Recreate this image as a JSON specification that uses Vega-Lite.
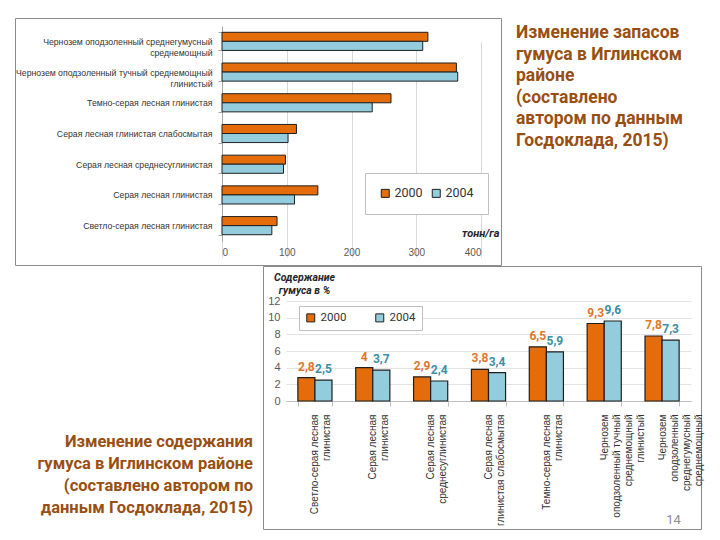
{
  "$schema": "https://vega.github.io/schema/vega-lite/v6.json",
  "background": "white",
  "padding": {"left": 14, "top": 13, "right": 0, "bottom": 0},
  "autosize": {"type": "pad"},
  "bounds": "full",
  "spacing": -4,
  "resolve": {"scale": {"color": "independent"}, "legend": {"color": "independent"}},
  "config": {
    "font": "Liberation Sans",
    "view": {"stroke": "#8c8c8c", "strokeWidth": 1},
    "locale": {"number": {"decimal": ",", "thousands": " ", "grouping": [3], "currency": ["", ""]}}
  },
  "datasets": {
    "stocks": [
      {"soil": "Чернозем оподзоленный среднегумусный\nсреднемощный", "year": "2000", "value": 318},
      {"soil": "Чернозем оподзоленный среднегумусный\nсреднемощный", "year": "2004", "value": 310},
      {"soil": "Чернозем оподзоленный тучный среднемощный\nглинистый", "year": "2000", "value": 362},
      {"soil": "Чернозем оподзоленный тучный среднемощный\nглинистый", "year": "2004", "value": 364},
      {"soil": "Темно-серая лесная глинистая", "year": "2000", "value": 261},
      {"soil": "Темно-серая лесная глинистая", "year": "2004", "value": 232},
      {"soil": "Серая лесная глинистая слабосмытая", "year": "2000", "value": 115},
      {"soil": "Серая лесная глинистая слабосмытая", "year": "2004", "value": 102},
      {"soil": "Серая лесная среднесуглинистая", "year": "2000", "value": 98},
      {"soil": "Серая лесная среднесуглинистая", "year": "2004", "value": 95},
      {"soil": "Серая лесная глинистая", "year": "2000", "value": 148},
      {"soil": "Серая лесная глинистая", "year": "2004", "value": 112},
      {"soil": "Светло-серая лесная глинистая", "year": "2000", "value": 85},
      {"soil": "Светло-серая лесная глинистая", "year": "2004", "value": 77}
    ],
    "content": [
      {"soil": "Светло-серая лесная\nглинистая", "year": "2000", "value": 2.8},
      {"soil": "Светло-серая лесная\nглинистая", "year": "2004", "value": 2.5},
      {"soil": "Серая лесная\nглинистая", "year": "2000", "value": 4},
      {"soil": "Серая лесная\nглинистая", "year": "2004", "value": 3.7},
      {"soil": "Серая лесная\nсреднесуглинистая", "year": "2000", "value": 2.9},
      {"soil": "Серая лесная\nсреднесуглинистая", "year": "2004", "value": 2.4},
      {"soil": "Серая лесная\nглинистая слабосмытая", "year": "2000", "value": 3.8},
      {"soil": "Серая лесная\nглинистая слабосмытая", "year": "2004", "value": 3.4},
      {"soil": "Темно-серая лесная\nглинистая", "year": "2000", "value": 6.5},
      {"soil": "Темно-серая лесная\nглинистая", "year": "2004", "value": 5.9},
      {"soil": "Чернозем\nоподзоленный тучный\nсреднемощный\nглинистый", "year": "2000", "value": 9.3},
      {"soil": "Чернозем\nоподзоленный тучный\nсреднемощный\nглинистый", "year": "2004", "value": 9.6},
      {"soil": "Чернозем\nоподзоленный\nсреднегумусный\nсреднемощный", "year": "2000", "value": 7.8},
      {"soil": "Чернозем\nоподзоленный\nсреднегумусный\nсреднемощный", "year": "2004", "value": 7.3}
    ],
    "captionTop": [
      {"i": 0, "t": "Изменение запасов"},
      {"i": 1, "t": "гумуса в Иглинском"},
      {"i": 2, "t": "районе"},
      {"i": 3, "t": "(составлено"},
      {"i": 4, "t": "автором по данным"},
      {"i": 5, "t": "Госдоклада, 2015)"}
    ],
    "captionBottom": [
      {"i": 0, "t": "Изменение содержания"},
      {"i": 1, "t": "гумуса в Иглинском районе"},
      {"i": 2, "t": "(составлено автором по"},
      {"i": 3, "t": "данным Госдоклада, 2015)"}
    ]
  },
  "vconcat": [
    {
      "spacing": 15,
      "bounds": "flush",
      "resolve": {"scale": {"color": "independent"}, "legend": {"color": "independent"}},
      "hconcat": [
        {
          "width": 486,
          "height": 247,
          "data": {"name": "stocks"},
          "mark": {"type": "bar", "stroke": "#1f1f1f", "strokeWidth": 1},
          "encoding": {
            "y": {
              "field": "soil", "type": "nominal", "sort": null,
              "scale": {"range": [8, 223], "paddingInner": 0.41, "paddingOuter": 0.205},
              "axis": {"title": null, "offset": -207, "labelExpr": "split(datum.label, '\\n')", "labelFontSize": 8.7, "labelColor": "#333333", "labelPadding": 6, "labelLineHeight": 11, "labelLimit": 300, "tickBand": "extent", "tickSize": 4, "tickColor": "#a6a6a6", "domainColor": "#a6a6a6"}
            },
            "yOffset": {"field": "year", "type": "nominal", "sort": ["2000", "2004"], "scale": {"paddingInner": 0}},
            "x": {
              "field": "value", "type": "quantitative",
              "scale": {"domain": [0, 400], "range": [207, 466]},
              "axis": {"values": [0, 100, 200, 300, 400], "grid": true, "gridColor": "#d9d9d9", "domain": false, "ticks": false, "offset": -24, "minExtent": 0, "maxExtent": 16, "labelFontSize": 10, "labelColor": "#595959", "labelPadding": 6, "title": "тонн/га", "titleFont": "Roboto", "titleFontSize": 11, "titleFontWeight": "bold", "titleFontStyle": "italic", "titleColor": "#262626", "titleX": 484, "titleY": -3, "titleAlign": "right", "titleBaseline": "bottom"}
            },
            "color": {
              "field": "year", "type": "nominal",
              "scale": {"domain": ["2000", "2004"], "range": ["#E46C0A", "#93CDDD"]},
              "legend": {"title": null, "orient": "none", "legendX": 350, "legendY": 155, "direction": "horizontal", "symbolType": "square", "symbolSize": 64, "symbolStrokeColor": "#1f1f1f", "symbolStrokeWidth": 1, "labelFontSize": 12.5, "labelFont": "Roboto", "labelColor": "#333333", "labelOffset": 3, "columnPadding": 7, "padding": 14, "strokeColor": "#bfbfbf", "fillColor": "white"}
            }
          }
        },
        {
          "width": 190,
          "height": 138,
          "view": {"stroke": null},
          "data": {"name": "captionTop"},
          "mark": {"type": "text", "align": "left", "baseline": "middle", "font": "Roboto", "fontSize": 17.5, "fontWeight": "bold", "color": "#9a4f12"},
          "encoding": {
            "y": {"field": "i", "type": "ordinal", "axis": null, "scale": {"type": "band", "paddingInner": 0, "paddingOuter": 0.2}},
            "x": {"datum": 0, "type": "quantitative", "scale": {"domain": [0, 1]}, "axis": null},
            "text": {"field": "t"}
          }
        }
      ]
    },
    {
      "spacing": 10,
      "bounds": "flush",
      "resolve": {"scale": {"color": "independent"}, "legend": {"color": "independent"}},
      "hconcat": [
        {
          "width": 238,
          "height": 263,
          "view": {"stroke": null},
          "data": {"name": "captionBottom"},
          "mark": {"type": "text", "align": "right", "baseline": "middle", "font": "Roboto", "fontSize": 16.5, "fontWeight": "bold", "color": "#9a4f12"},
          "encoding": {
            "y": {"field": "i", "type": "quantitative", "axis": null, "scale": {"domain": [-8, 3.95], "reverse": true, "nice": false, "zero": false}},
            "x": {"datum": 1, "type": "quantitative", "scale": {"domain": [0, 1]}, "axis": null},
            "text": {"field": "t"}
          }
        },
        {
          "width": 438,
          "height": 263,
          "data": {"name": "content"},
          "encoding": {
            "x": {
              "field": "soil", "type": "nominal", "sort": null,
              "scale": {"range": [23, 428], "paddingInner": 0.41, "paddingOuter": 0.205},
              "axis": {"offset": -128, "labelAngle": -90, "labelAlign": "right", "labelBaseline": "middle", "labelExpr": "split(datum.label, '\\n')", "labelFontSize": 10, "labelLineHeight": 12, "labelColor": "#333333", "labelPadding": 8, "labelLimit": 300, "tickBand": "extent", "tickSize": 5, "tickColor": "#bfbfbf", "domainColor": "#bfbfbf", "title": "14", "titleX": 410, "titleY": 118, "titleFont": "Roboto", "titleFontSize": 13, "titleFontWeight": "normal", "titleColor": "#8c8c8c", "titleAlign": "center", "titleBaseline": "middle"}
            },
            "xOffset": {"field": "year", "type": "nominal", "sort": ["2000", "2004"], "scale": {"paddingInner": 0}},
            "y": {
              "field": "value", "type": "quantitative",
              "scale": {"domain": [0, 12], "range": [135, 35]},
              "axis": {"values": [0, 2, 4, 6, 8, 10, 12], "offset": -23, "grid": true, "gridColor": "#e3e3e3", "domain": false, "ticks": false, "labelFontSize": 11, "labelColor": "#595959", "labelPadding": 6, "title": ["Содержание", "гумуса в %"], "titleAngle": 0, "titleX": 18, "titleY": 6, "titleAlign": "center", "titleBaseline": "top", "titleFont": "Roboto", "titleFontSize": 10.5, "titleFontWeight": "bold", "titleFontStyle": "italic", "titleColor": "#262626", "titleLineHeight": 13}
            }
          },
          "layer": [
            {
              "mark": {"type": "bar", "stroke": "#1f1f1f", "strokeWidth": 1.2},
              "encoding": {
                "color": {
                  "field": "year", "type": "nominal",
                  "scale": {"domain": ["2000", "2004"], "range": ["#E46C0A", "#93CDDD"]},
                  "legend": {"title": null, "orient": "none", "legendX": 36, "legendY": 40, "direction": "horizontal", "symbolType": "square", "symbolSize": 64, "symbolStrokeColor": "#1f1f1f", "symbolStrokeWidth": 1, "labelFontSize": 11.5, "labelFont": "Roboto", "labelColor": "#333333", "columnPadding": 26, "padding": 6, "strokeColor": "#bfbfbf", "fillColor": "white"}
                }
              }
            },
            {
              "mark": {"type": "text", "baseline": "bottom", "dy": -4, "font": "Roboto", "fontSize": 12, "fontWeight": "bold"},
              "encoding": {
                "text": {"field": "value", "type": "quantitative", "format": "~g"},
                "color": {"condition": {"test": "datum.year === '2000'", "value": "#E0762A"}, "value": "#3A8FA8"}
              }
            }
          ]
        }
      ]
    }
  ]
}
